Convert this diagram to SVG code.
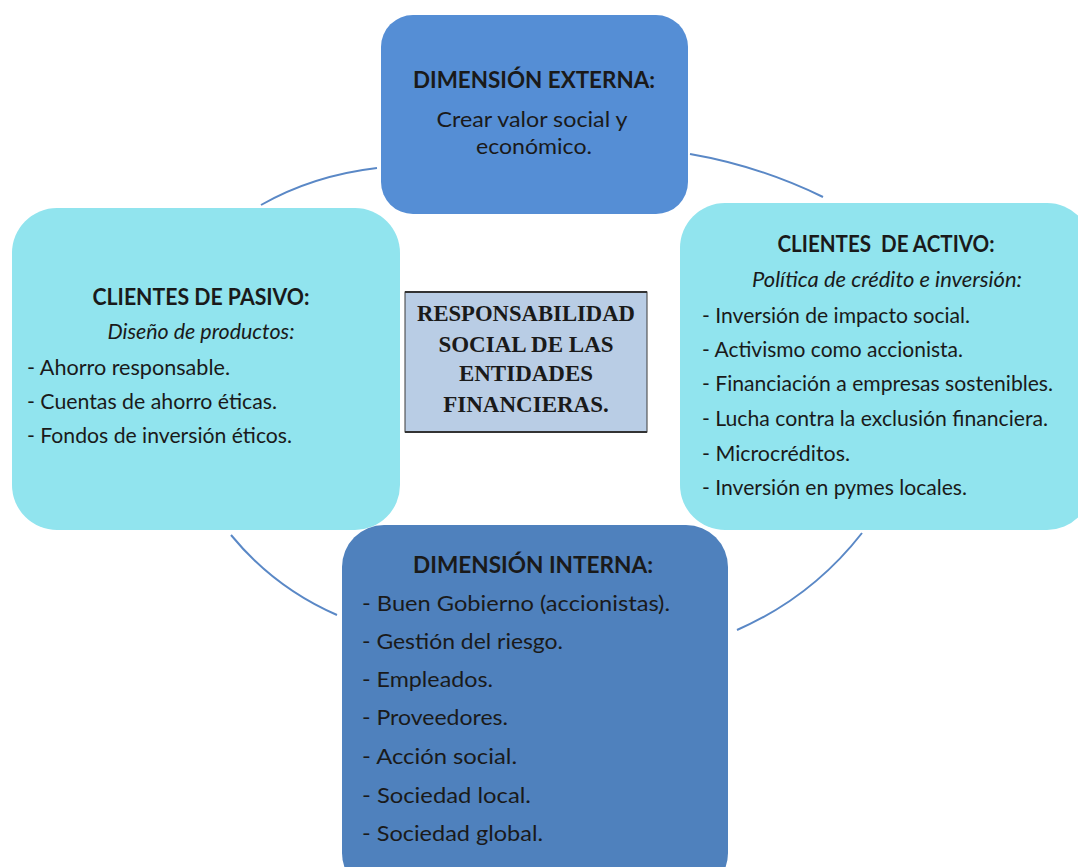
<svg xmlns="http://www.w3.org/2000/svg" width="1078" height="867" viewBox="0 0 1078 867">
  <style>
    .t { font-family: Lato, "Liberation Sans", sans-serif; fill: #1a1a1a; }
    .h { font-weight: bold; font-size: 22px; }
    .b { font-size: 21px; }
    .i { font-size: 21px; font-style: italic; }
    .c { text-anchor: middle; }
    .ctr { font-family: "Liberation Serif", serif; font-weight: bold; font-size: 23px; fill: #1a1a1a; text-anchor: middle; }
    .arc { fill: none; stroke: #5a88c6; stroke-width: 2; }
  </style>
  <rect width="1078" height="867" fill="#ffffff"/>

  <!-- cycle arcs between the four outer nodes -->
  <g id="connectors">
    <path class="arc" d="M261,205 Q313,175.5 377,168"/>
    <path class="arc" d="M690,154 Q759.5,166 823,197"/>
    <path class="arc" d="M231,535 Q274.4,587.8 337,615"/>
    <path class="arc" d="M737,630 Q811.8,597.3 862,533"/>
  </g>

  <g id="dimension-externa">
    <rect x="381" y="15" width="307" height="199" rx="32" fill="#558ed5"/>
    <text class="t h c" x="534" y="88" textLength="242" lengthAdjust="spacingAndGlyphs">DIMENSIÓN EXTERNA:</text>
    <text class="t b c" x="532" y="127" textLength="191" lengthAdjust="spacingAndGlyphs">Crear valor social y</text>
    <text class="t b c" x="534" y="154" textLength="116" lengthAdjust="spacingAndGlyphs">económico.</text>
  </g>

  <g id="clientes-pasivo">
    <rect x="12" y="208" width="388" height="322" rx="45" fill="#91e4ee"/>
    <text class="t h c" x="201" y="305" textLength="217" lengthAdjust="spacingAndGlyphs">CLIENTES DE PASIVO:</text>
    <text class="t i c" x="201" y="339" textLength="187" lengthAdjust="spacingAndGlyphs">Diseño de productos:</text>
    <text class="t b" x="27" y="375" textLength="203" lengthAdjust="spacingAndGlyphs">- Ahorro responsable.</text>
    <text class="t b" x="27" y="409" textLength="250" lengthAdjust="spacingAndGlyphs">- Cuentas de ahorro éticas.</text>
    <text class="t b" x="27" y="443" textLength="265" lengthAdjust="spacingAndGlyphs">- Fondos de inversión éticos.</text>
  </g>

  <g id="clientes-activo">
    <rect x="680" y="203" width="412" height="327" rx="45" fill="#91e4ee"/>
    <text class="t h c" x="886" y="252" textLength="217" lengthAdjust="spacingAndGlyphs" xml:space="preserve">CLIENTES  DE ACTIVO:</text>
    <text class="t i c" x="887" y="287" textLength="270" lengthAdjust="spacingAndGlyphs">Política de crédito e inversión:</text>
    <text class="t b" x="702" y="323" textLength="268" lengthAdjust="spacingAndGlyphs">- Inversión de impacto social.</text>
    <text class="t b" x="702" y="357" textLength="261" lengthAdjust="spacingAndGlyphs">- Activismo como accionista.</text>
    <text class="t b" x="702" y="391" textLength="351" lengthAdjust="spacingAndGlyphs">- Financiación a empresas sostenibles.</text>
    <text class="t b" x="702" y="426" textLength="346" lengthAdjust="spacingAndGlyphs">- Lucha contra la exclusión financiera.</text>
    <text class="t b" x="702" y="461" textLength="148" lengthAdjust="spacingAndGlyphs">- Microcréditos.</text>
    <text class="t b" x="702" y="495" textLength="265" lengthAdjust="spacingAndGlyphs">- Inversión en pymes locales.</text>
  </g>

  <g id="dimension-interna">
    <rect x="342" y="525" width="386" height="370" rx="42" fill="#4f81bd"/>
    <text class="t h c" x="533" y="573" textLength="240" lengthAdjust="spacingAndGlyphs">DIMENSIÓN INTERNA:</text>
    <text class="t b" x="362" y="611" textLength="308" lengthAdjust="spacingAndGlyphs">- Buen Gobierno (accionistas).</text>
    <text class="t b" x="362" y="649" textLength="201" lengthAdjust="spacingAndGlyphs">- Gestión del riesgo.</text>
    <text class="t b" x="362" y="687" textLength="131" lengthAdjust="spacingAndGlyphs">- Empleados.</text>
    <text class="t b" x="362" y="725" textLength="146" lengthAdjust="spacingAndGlyphs">- Proveedores.</text>
    <text class="t b" x="362" y="764" textLength="155" lengthAdjust="spacingAndGlyphs">- Acción social.</text>
    <text class="t b" x="362" y="803" textLength="169" lengthAdjust="spacingAndGlyphs">- Sociedad local.</text>
    <text class="t b" x="362" y="841" textLength="181" lengthAdjust="spacingAndGlyphs">- Sociedad global.</text>
  </g>

  <g id="centro">
    <rect x="405" y="292" width="242" height="140" fill="#b9cde5" stroke="#3a3a3a" stroke-width="1"/>
    <line x1="405" y1="292" x2="647" y2="292" stroke="#333333" stroke-width="2"/>
    <line x1="405" y1="432" x2="647" y2="432" stroke="#333333" stroke-width="2"/>
    <text class="ctr" x="526" y="321" textLength="218" lengthAdjust="spacingAndGlyphs">RESPONSABILIDAD</text>
    <text class="ctr" x="526" y="352">SOCIAL DE LAS</text>
    <text class="ctr" x="526" y="381">ENTIDADES</text>
    <text class="ctr" x="526" y="412">FINANCIERAS.</text>
  </g>
</svg>
